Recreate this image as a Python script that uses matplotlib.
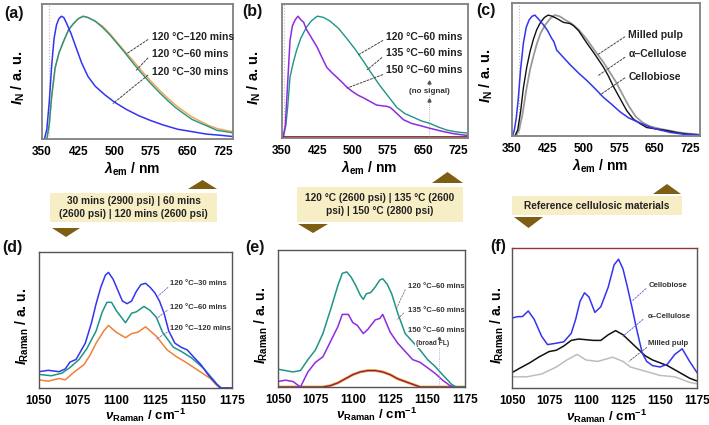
import matplotlib
matplotlib.use("Agg")
import matplotlib.pyplot as plt
from matplotlib.patches import Rectangle, Polygon

plt.rcParams['font.family'] = ['Liberation Sans', 'DejaVu Sans']
plt.rcParams['mathtext.fontset'] = 'custom'
plt.rcParams['mathtext.it'] = 'Liberation Sans:italic:bold'
plt.rcParams['mathtext.rm'] = 'Liberation Sans:bold'
plt.rcParams['mathtext.bf'] = 'Liberation Sans:bold'

# ---------------- data: fluorescence (top row) ----------------
fl_ticks = [350, 425, 500, 575, 650, 725]

a_blue_x = [355, 360, 365, 370, 375, 380, 385, 390, 395, 400, 410, 420, 432, 445, 460, 480, 500, 525, 550, 575, 600, 630, 660, 690, 720, 745]
a_blue_y = [0, 0.08, 0.30, 0.60, 0.82, 0.93, 0.98, 1.0, 0.99, 0.95, 0.86, 0.75, 0.62, 0.51, 0.43, 0.36, 0.30, 0.24, 0.19, 0.15, 0.115, 0.08, 0.06, 0.04, 0.03, 0.02]
a_teal_x = [360, 365, 370, 377, 385, 395, 405, 415, 425, 435, 445, 460, 475, 490, 505, 520, 538, 555, 573, 590, 608, 625, 642, 660, 677, 695, 712, 730, 745]
a_teal_y = [0, 0.12, 0.35, 0.58, 0.70, 0.80, 0.89, 0.94, 0.98, 1.0, 0.99, 0.96, 0.91, 0.85, 0.78, 0.71, 0.62, 0.54, 0.46, 0.39, 0.32, 0.26, 0.21, 0.16, 0.13, 0.10, 0.07, 0.06, 0.05]
a_orng_y = [0, 0.11, 0.34, 0.57, 0.70, 0.80, 0.89, 0.94, 0.98, 1.0, 0.99, 0.96, 0.92, 0.86, 0.79, 0.72, 0.64, 0.56, 0.48, 0.41, 0.34, 0.28, 0.23, 0.18, 0.145, 0.11, 0.085, 0.07, 0.06]
a_labels = ["120 °C–120 mins", "120 °C–60 mins", "120 °C–30 mins"]

b_purp_x = [352, 357, 362, 367, 372, 378, 384, 390, 396, 402, 413, 424, 435, 445, 455, 466, 477, 487, 500, 512, 523, 537, 551, 562, 572, 580, 586, 597, 608, 625, 645, 664, 690, 715, 745]
b_purp_y = [0, 0.10, 0.45, 0.80, 0.92, 0.97, 1.0, 0.97, 0.95, 0.89, 0.82, 0.75, 0.66, 0.58, 0.54, 0.50, 0.46, 0.42, 0.38, 0.35, 0.33, 0.30, 0.27, 0.265, 0.26, 0.25, 0.23, 0.19, 0.15, 0.12, 0.10, 0.08, 0.055, 0.035, 0.02]
b_teal_x = [352, 358, 362, 367, 374, 381, 390, 402, 412, 425, 438, 452, 470, 487, 505, 523, 540, 558, 576, 594, 611, 629, 646, 664, 682, 700, 720, 745]
b_teal_y = [0, 0.10, 0.25, 0.50, 0.62, 0.72, 0.82, 0.91, 0.96, 1.0, 0.99, 0.96, 0.90, 0.82, 0.73, 0.63, 0.53, 0.43, 0.34, 0.25, 0.20, 0.17, 0.14, 0.12, 0.09, 0.065, 0.05, 0.04]
b_red_x = [350, 745]
b_red_y = [0.005, 0.005]
b_labels = ["120 °C–60 mins", "135 °C–60 mins", "150 °C–60 mins"]

c_blue_x = [351, 355, 359, 363, 368, 374, 380, 386, 392, 398, 405, 416, 425, 433, 438, 444, 458, 472, 490, 507, 525, 542, 560, 577, 595, 612, 630, 650, 682, 710, 745]
c_blue_y = [0, 0.05, 0.15, 0.30, 0.55, 0.77, 0.90, 0.96, 0.99, 1.0, 0.97, 0.92, 0.87, 0.81, 0.78, 0.71, 0.65, 0.59, 0.52, 0.46, 0.39, 0.32, 0.26, 0.20, 0.15, 0.12, 0.09, 0.06, 0.03, 0.015, 0.01]
c_blk_x = [356, 362, 368, 374, 381, 388, 395, 402, 410, 418, 426, 435, 445, 458, 472, 480, 490, 507, 525, 542, 552, 563, 577, 591, 605, 620, 633, 650, 668, 682, 700, 720, 745]
c_blk_y = [0, 0.05, 0.20, 0.40, 0.57, 0.70, 0.80, 0.88, 0.94, 0.98, 1.0, 0.99, 0.97, 0.94, 0.93, 0.91, 0.87, 0.77, 0.67, 0.57, 0.50, 0.41, 0.31, 0.21, 0.14, 0.10, 0.07, 0.06, 0.05, 0.04, 0.025, 0.015, 0.01]
c_gray_x = [358, 365, 372, 380, 388, 395, 402, 410, 420, 430, 440, 450, 462, 475, 490, 507, 525, 542, 555, 568, 580, 595, 610, 625, 640, 660, 680, 700, 720, 745]
c_gray_y = [0, 0.05, 0.18, 0.38, 0.55, 0.66, 0.76, 0.85, 0.92, 0.97, 1.0, 0.99, 0.96, 0.93, 0.88, 0.80, 0.70, 0.61, 0.53, 0.45, 0.36, 0.25, 0.16, 0.11, 0.08, 0.06, 0.045, 0.03, 0.02, 0.01]
c_labels = ["Milled pulp", "α–Cellulose", "Cellobiose"]

# ---------------- data: Raman (bottom row) ----------------
ra_ticks = [1050, 1075, 1100, 1125, 1150, 1175]

d_blue_x = [1050, 1056, 1063, 1067, 1070, 1074, 1080, 1084, 1087, 1090, 1093, 1095, 1098, 1101, 1104, 1107, 1110, 1113, 1116, 1119, 1122, 1125, 1128, 1131, 1134, 1138, 1142, 1146, 1150, 1155, 1160, 1165, 1168, 1175]
d_blue_y = [0.12, 0.13, 0.12, 0.14, 0.19, 0.21, 0.33, 0.48, 0.62, 0.74, 0.83, 0.85, 0.80, 0.72, 0.64, 0.62, 0.64, 0.71, 0.76, 0.77, 0.74, 0.70, 0.64, 0.55, 0.42, 0.33, 0.30, 0.28, 0.23, 0.17, 0.09, 0.03, 0.0, 0.0]
d_teal_x = [1050, 1058, 1065, 1070, 1076, 1081, 1087, 1091, 1094, 1097, 1100, 1104, 1106, 1110, 1113, 1118, 1122, 1126, 1130, 1137, 1142, 1149, 1157, 1163, 1167, 1175]
d_teal_y = [0.10, 0.09, 0.11, 0.15, 0.21, 0.29, 0.42, 0.56, 0.63, 0.63, 0.57, 0.51, 0.48, 0.55, 0.56, 0.60, 0.57, 0.52, 0.41, 0.30, 0.27, 0.22, 0.14, 0.06, 0.0, 0.0]
d_orng_x = [1050, 1056, 1063, 1067, 1073, 1079, 1083, 1087, 1092, 1095, 1100, 1106, 1110, 1114, 1119, 1126, 1133, 1139, 1145, 1153, 1161, 1165, 1168, 1175]
d_orng_y = [0.06, 0.05, 0.07, 0.06, 0.12, 0.17, 0.24, 0.33, 0.42, 0.46, 0.41, 0.37, 0.40, 0.41, 0.45, 0.38, 0.28, 0.23, 0.19, 0.13, 0.07, 0.02, 0.0, 0.0]
d_labels = ["120 °C–30 mins", "120 °C–60 mins", "120 °C–120 mins"]

e_teal_x = [1050, 1055, 1060, 1065, 1070, 1075, 1080, 1085, 1090, 1093, 1096, 1099, 1102, 1105, 1107, 1109, 1112, 1115, 1118, 1120, 1123, 1126, 1130, 1135, 1140, 1145, 1150, 1155, 1160, 1166, 1169, 1175]
e_teal_y = [0.13, 0.12, 0.11, 0.12, 0.20, 0.27, 0.39, 0.56, 0.74, 0.83, 0.84, 0.80, 0.74, 0.67, 0.64, 0.68, 0.69, 0.73, 0.78, 0.79, 0.75, 0.68, 0.54, 0.39, 0.33, 0.27, 0.20, 0.15, 0.09, 0.02, 0.0, 0.0]
e_purp_x = [1050, 1055, 1060, 1065, 1070, 1075, 1080, 1085, 1090, 1093, 1097, 1100, 1103, 1107, 1110, 1115, 1118, 1120, 1125, 1130, 1135, 1140, 1145, 1150, 1155, 1160, 1165, 1168, 1175]
e_purp_y = [0.04, 0.05, 0.04, 0.0, 0.11, 0.18, 0.22, 0.33, 0.44, 0.53, 0.53, 0.47, 0.45, 0.39, 0.42, 0.49, 0.50, 0.53, 0.40, 0.32, 0.26, 0.20, 0.18, 0.14, 0.10, 0.05, 0.01, 0.0, 0.0]
e_fl_x = [1050, 1080, 1085, 1090, 1095, 1100, 1105, 1110, 1115, 1120, 1125, 1130, 1135, 1140, 1145, 1175]
e_fl_y = [0.0, 0.0, 0.01, 0.03, 0.06, 0.09, 0.11, 0.12, 0.12, 0.11, 0.09, 0.06, 0.04, 0.02, 0.0, 0.0]
e_labels = ["120 °C–60 mins", "135 °C–60 mins", "150 °C–60 mins"]

f_blue_x = [1050, 1054, 1057, 1061, 1065, 1070, 1074, 1080, 1085, 1090, 1093, 1096, 1099, 1102, 1106, 1110, 1115, 1119, 1122, 1125, 1128, 1131, 1134, 1138, 1141, 1145, 1150, 1155, 1160, 1165, 1170, 1175]
f_blue_y = [0.50, 0.51, 0.51, 0.55, 0.49, 0.37, 0.31, 0.32, 0.33, 0.39, 0.49, 0.62, 0.68, 0.65, 0.54, 0.58, 0.72, 0.88, 0.92, 0.85, 0.72, 0.58, 0.43, 0.25, 0.19, 0.16, 0.15, 0.17, 0.24, 0.28, 0.19, 0.11]
f_blk_x = [1050, 1055, 1062, 1068, 1075, 1080, 1085, 1090, 1095, 1100, 1105, 1110, 1115, 1120, 1125, 1130, 1135, 1140, 1145, 1150, 1155, 1160, 1165, 1170, 1175]
f_blk_y = [0.11, 0.14, 0.18, 0.22, 0.26, 0.27, 0.30, 0.34, 0.35, 0.345, 0.34, 0.34, 0.38, 0.41, 0.38, 0.33, 0.28, 0.23, 0.20, 0.18, 0.16, 0.13, 0.10, 0.07, 0.05]
f_gray_x = [1050, 1060, 1070, 1080, 1087, 1094, 1100, 1108, 1118, 1125, 1130, 1140, 1150, 1160, 1170, 1175]
f_gray_y = [0.08, 0.08, 0.10, 0.15, 0.20, 0.24, 0.20, 0.19, 0.22, 0.19, 0.15, 0.12, 0.09, 0.08, 0.04, 0.03]
f_labels = ["Cellobiose", "α–Cellulose", "Milled pulp"]

banner_texts = ["30 mins (2900 psi) | 60 mins\n(2600 psi) | 120 mins (2600 psi)",
                "120 °C (2600 psi) | 135 °C (2600\npsi) | 150 °C (2800 psi)",
                "Reference cellulosic materials"]

# ---------------- styling ----------------
BLUE = "#3434F0"
TEAL = "#1F9585"
ORNG = "#F0803A"
ORNG_L = "#F5A552"
PURP = "#8E2BE0"
W, H = 709, 425

fig = plt.figure(figsize=(W / 100, H / 100), dpi=100)

bg = fig.add_axes([0, 0, 1, 1])
bg.set_xlim(0, W)
bg.set_ylim(H, 0)
bg.axis("off")


def px_axes(x0, y0, x1, y1):
    return fig.add_axes([x0 / W, 1 - y1 / H, (x1 - x0) / W, (y1 - y0) / H])


def style(ax, xlim, ylim, ticks, top, spine_col, ylab, xlab, ylab_x, xlab_x):
    ax.set_xlim(*xlim)
    ax.set_ylim(*ylim)
    ax.set_xticks(ticks)
    ax.set_xticklabels([str(t) for t in ticks], fontsize=8.5, fontweight="bold")
    ax.set_yticks([])
    ax.tick_params(axis="x", length=0, pad=5)
    for s in ax.spines.values():
        s.set_color(spine_col)
        s.set_linewidth(1.3 if top else 1.0)
    ax.set_ylabel(ylab, fontsize=10.5 if top else 10, fontweight="bold")
    ax.yaxis.set_label_coords(ylab_x, 0.45)
    ax.set_xlabel(xlab, fontsize=10 if top else 9.5, fontweight="bold")
    ax.xaxis.set_label_coords(xlab_x, -0.155 if top else -0.14)
    ax.xaxis.label.set_va("top")


def leader(ax, start, end, color="#444444", lw=0.7):
    ax.annotate("", xy=end, xytext=start,
                arrowprops=dict(arrowstyle="-", color=color, lw=lw, ls=(0, (2.2, 1.6)),
                                shrinkA=0, shrinkB=0))


YL_TOP = r"$I_{\mathrm{N}}$ / a. u."
XL_TOP = r"$\lambda_{\mathrm{em}}$ / nm"
YL_BOT = r"$I_{\mathrm{Raman}}$ / a. u."
XL_BOT = r"$\nu_{\mathrm{Raman}}$ / cm$^{-1}$"

# ---- (a)
ax = px_axes(42, 4, 233, 139)
ax.axvline(365, color="#BBBBBB", lw=0.8, ls=":")
ax.plot(a_teal_x, a_orng_y, color=ORNG_L, lw=1.1)
ax.plot(a_teal_x, a_teal_y, color=TEAL, lw=1.0)
ax.plot(a_blue_x, a_blue_y, color=BLUE, lw=1.1)
style(ax, (350, 745), (0, 1.1), fl_ticks, True, "#808080", YL_TOP, XL_TOP, -0.08, 0.47)
for lab, ty, st, en in zip(a_labels, [0.83, 0.69, 0.55],
                           [(569, 0.81), (569, 0.66), (569, 0.52)],
                           [(527, 0.70), (545, 0.56), (497, 0.29)]):
    ax.text(577, ty, lab, fontsize=7.5, fontweight="bold", va="center", color="#222222")
    leader(ax, st, en)

# ---- (b)
ax = px_axes(282, 4, 468, 138)
ax.axvline(355, color="#BBBBBB", lw=0.8, ls=":")
ax.plot(b_teal_x, b_teal_y, color=TEAL, lw=1.0)
ax.plot(b_purp_x, b_purp_y, color=PURP, lw=1.1)
ax.plot(b_red_x, b_red_y, color="#8B1010", lw=1.2)
style(ax, (350, 745), (0, 1.1), fl_ticks, True, "#808080", YL_TOP, XL_TOP, -0.10, 0.47)
for lab, ty, st, en in zip(b_labels, [0.83, 0.70, 0.56],
                           [(564, 0.80), (562, 0.66), (564, 0.52)],
                           [(511, 0.68), (531, 0.56), (488, 0.41)]):
    ax.text(571, ty, lab, fontsize=7.5, fontweight="bold", va="center", color="#222222")
    leader(ax, st, en)
ax.plot([662, 662], [0.02, 0.47], color="#999999", lw=0.6, ls=":")
ax.plot([662], [0.46], marker="^", ms=2.2, color="#555555")
ax.plot([662], [0.31], marker="^", ms=2.2, color="#555555")
ax.text(662, 0.385, "(no signal)", fontsize=5.8, fontweight="bold", ha="center", va="center",
        color="#333333", bbox=dict(boxstyle="square,pad=0.1", fc="white", ec="none"))

# ---- (c)
ax = px_axes(512, 3, 700, 136)
ax.axvline(365, color="#BBBBBB", lw=0.8, ls=":")
ax.plot(c_gray_x, c_gray_y, color="#9A9A9A", lw=1.3)
ax.plot(c_blk_x, c_blk_y, color="#111111", lw=1.0)
ax.plot(c_blue_x, c_blue_y, color=BLUE, lw=1.1)
style(ax, (350, 745), (0, 1.1), fl_ticks, True, "#808080", YL_TOP, XL_TOP, -0.09, 0.47)
for lab, ty, st, en in zip(c_labels, [0.835, 0.68, 0.49],
                           [(587, 0.82), (587, 0.65), (587, 0.48)],
                           [(529, 0.67), (531, 0.50), (535, 0.34)]):
    ax.text(594, ty, lab, fontsize=7.5, fontweight="bold", va="center", color="#222222")
    leader(ax, st, en)

# ---- (d)
ax = px_axes(39, 252, 232, 388)
ax.plot(d_orng_x, d_orng_y, color=ORNG, lw=1.1)
ax.plot(d_teal_x, d_teal_y, color=TEAL, lw=1.1)
ax.plot(d_blue_x, d_blue_y, color=BLUE, lw=1.1)
style(ax, (1050, 1175), (0, 1.0), ra_ticks, False, "#555555", YL_BOT, XL_BOT, -0.04, 0.55)
for lab, ty, st, en in zip(d_labels, [0.765, 0.59, 0.44],
                           [(1133.5, 0.74), (1133, 0.57), (1133, 0.41)],
                           [(1126.5, 0.67), (1126, 0.51), (1126, 0.36)]):
    ax.text(1135, ty, lab, fontsize=5.6, fontweight="bold", va="center", color="#333333")
    leader(ax, st, en, color="#6A6ACC", lw=0.6)

# ---- (e)
ax = px_axes(278, 250, 465, 387)
ax.plot(e_fl_x, e_fl_y, color="#F0A030", lw=2.0)
ax.plot(e_fl_x, e_fl_y, color="#8B1A4A", lw=0.9)
ax.plot(e_purp_x, e_purp_y, color=PURP, lw=1.1)
ax.plot(e_teal_x, e_teal_y, color=TEAL, lw=1.1)
style(ax, (1050, 1175), (0, 1.0), ra_ticks, False, "#555555", YL_BOT, XL_BOT, -0.045, 0.53)
for lab, ty in zip(e_labels, [0.73, 0.56, 0.41]):
    ax.text(1137, ty, lab, fontsize=5.6, fontweight="bold", va="center", color="#333333")
leader(ax, (1135, 0.71), (1129.5, 0.58), color="#777777", lw=0.6)
leader(ax, (1134, 0.54), (1129.5, 0.49), color="#777777", lw=0.6)
ax.plot([1157.5, 1157.5], [0.01, 0.36], color="#9999BB", lw=0.6, ls=":")
ax.plot([1157.5], [0.36], marker="^", ms=1.8, color="#555555")
ax.text(1153, 0.315, "(broad FL)", fontsize=4.8, fontweight="bold", ha="center", va="center",
        color="#333333", bbox=dict(boxstyle="square,pad=0.1", fc="white", ec="none"))

# ---- (f)
ax = px_axes(512, 248, 697, 388)
ax.plot(f_gray_x, f_gray_y, color="#BDBDBD", lw=1.1)
ax.plot(f_blk_x, f_blk_y, color="#111111", lw=1.1)
ax.plot(f_blue_x, f_blue_y, color=BLUE, lw=1.1)
style(ax, (1050, 1175), (0, 1.0), ra_ticks, False, "#555555", YL_BOT, XL_BOT, -0.03, 0.51)
ax.spines["top"].set_color("#8B3A3A")
for lab, ty, st, en, col in zip(f_labels, [0.73, 0.51, 0.32],
                                [(1140.5, 0.71), (1138.5, 0.49), (1141, 0.29)],
                                [(1131, 0.62), (1125, 0.37), (1129, 0.19)],
                                ["#5A5AE0", "#5A5AE0", "#555555"]):
    ax.text(1142, ty, lab, fontsize=5.6, fontweight="bold", va="center", color="#333333")
    leader(ax, st, en, color=col, lw=0.6)

# ---- panel letters
for lab, (x, y) in zip(["(a)", "(b)", "(c)", "(d)", "(e)", "(f)"],
                       [(14, 13), (252, 11), (486, 10), (12, 247), (255, 247), (498, 246)]):
    bg.text(x, y, lab, fontsize=11.5, fontweight="bold", ha="center", va="center", color="#111111")

# ---- banners with arrows
BANNER = "#F8EEC6"
ARROW = "#7D5E12"
boxes = [(50, 193, 217, 222), (297, 187, 463, 222), (512, 196, 682, 215)]
ups = [(188, 180, 217, 189), (432, 172, 463, 183), (653, 184, 681, 194)]
downs = [(52, 228, 80, 237), (298, 224, 328, 233), (514, 217, 543, 228)]
for (x0, y0, x1, y1), txt in zip(boxes, banner_texts):
    bg.add_patch(Rectangle((x0, y0), x1 - x0, y1 - y0, fc=BANNER, ec="none"))
    bg.text((x0 + x1) / 2, (y0 + y1) / 2, txt, fontsize=7.3, fontweight="bold",
            ha="center", va="center", color="#222222", linespacing=1.3)
for (x0, y0, x1, y1) in ups:
    bg.add_patch(Polygon([(x0, y1), (x1, y1), ((x0 + x1) / 2, y0)], closed=True, fc=ARROW, ec="none"))
for (x0, y0, x1, y1) in downs:
    bg.add_patch(Polygon([(x0, y0), (x1, y0), ((x0 + x1) / 2, y1)], closed=True, fc=ARROW, ec="none"))

fig.savefig("out.png", dpi=100)
